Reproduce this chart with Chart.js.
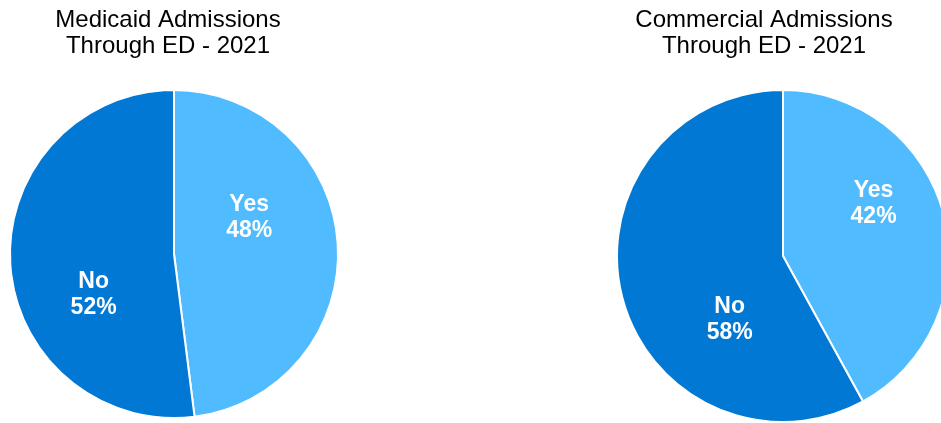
<!DOCTYPE html>
<html>
<head>
<meta charset="utf-8">
<script src="https://cdn.jsdelivr.net/npm/chart.js@4.4.1/dist/chart.umd.min.js"></script>
<style>
  html, body { margin: 0; padding: 0; background: #ffffff; overflow: hidden; }
  body { width: 941px; height: 423px; position: relative; }
  canvas { position: absolute; top: 0; }
  #medicaid { left: 0; }
  #commercial { left: 470px; }
</style>
</head>
<body>
<canvas id="medicaid" width="470" height="423"></canvas>
<canvas id="commercial" width="480" height="423"></canvas>
<script>
// Admissions through the emergency department, 2021 (percent of admissions)
const categories = ['Yes', 'No'];
const medicaidValues = [48, 52];
const commercialValues = [42, 58];
const medicaidTitle = ['Medicaid Admissions', 'Through ED - 2021'];
const commercialTitle = ['Commercial Admissions', 'Through ED - 2021'];

const sliceColors = ['#50BBFF', '#0078D4'];
const FONT = '"Liberation Sans", Arial, sans-serif';

// Two-line heading drawn above each pie
const headingPlugin = {
  id: 'heading',
  afterDraw(chart, args, opts) {
    const ctx = chart.ctx;
    ctx.save();
    ctx.font = '24px ' + FONT;
    ctx.fillStyle = '#000000';
    ctx.textAlign = 'center';
    ctx.textBaseline = 'alphabetic';
    opts.lines.forEach((line, i) => {
      ctx.fillText(line, opts.x, opts.baseline + i * opts.lineGap);
    });
    ctx.restore();
  }
};

// "Category / NN%" labels placed inside each slice
const sliceLabelPlugin = {
  id: 'sliceLabels',
  afterDatasetsDraw(chart, args, opts) {
    const ctx = chart.ctx;
    const meta = chart.getDatasetMeta(0);
    const ds = chart.data.datasets[0];
    ctx.save();
    ctx.font = 'bold 23px ' + FONT;
    ctx.fillStyle = '#ffffff';
    ctx.textAlign = 'center';
    ctx.textBaseline = 'middle';
    meta.data.forEach((arc, i) => {
      const a = opts.anchors[i];
      const ang = (a.angle - 90) * Math.PI / 180;
      const r = arc.outerRadius * a.radius;
      const cx = arc.x + Math.cos(ang) * r;
      const cy = arc.y + Math.sin(ang) * r;
      ctx.fillText(chart.data.labels[i], cx, cy - 13);
      ctx.fillText(ds.data[i] + '%', cx, cy + 13);
    });
    ctx.restore();
  }
};

function makePie(id, values, title, layoutPadding, heading, anchors) {
  return new Chart(document.getElementById(id), {
    type: 'pie',
    data: {
      labels: categories,
      datasets: [{
        data: values,
        backgroundColor: sliceColors,
        borderColor: '#ffffff',
        borderWidth: 2,
        hoverOffset: 0
      }]
    },
    options: {
      responsive: false,
      animation: false,
      devicePixelRatio: 1,
      layout: { padding: layoutPadding },
      plugins: {
        legend: { display: false },
        tooltip: { enabled: false },
        title: { display: false },
        heading: Object.assign({ lines: title }, heading),
        sliceLabels: { anchors: anchors }
      }
    },
    plugins: [headingPlugin, sliceLabelPlugin]
  });
}

makePie('medicaid', medicaidValues, medicaidTitle,
  { top: 89, bottom: 4, left: 9, right: 131 },
  { x: 168, baseline: 27, lineGap: 26 },
  [{ angle: 64, radius: 0.51 }, { angle: 243, radius: 0.55 }]);

makePie('commercial', commercialValues, commercialTitle,
  { top: 89, bottom: 0, left: 146, right: 0 },
  { x: 294, baseline: 27, lineGap: 26 },
  [{ angle: 60, radius: 0.63 }, { angle: 220, radius: 0.50 }]);
</script>
</body>
</html>
